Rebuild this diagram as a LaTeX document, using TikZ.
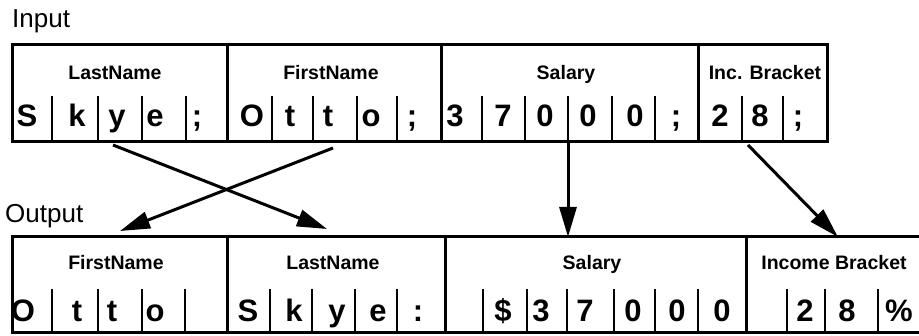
\documentclass[tikz,border=0pt]{standalone}
\usepackage{fontspec}
\setmainfont{Liberation Sans}
\usetikzlibrary{arrows.meta}
\begin{document}
\begin{tikzpicture}[x=1pt,y=-1pt,
  frame/.style={line width=3pt},
  bar/.style={line width=2.6pt},
  hdr/.style={font=\fontsize{19.5}{20}\selectfont\bfseries, anchor=base, inner sep=0pt},
  ch/.style={font=\fontsize{31}{31}\selectfont\bfseries, anchor=base, inner sep=0pt},
  lbl/.style={font=\fontsize{26}{26}\selectfont, anchor=base west, inner sep=0pt},
  arr/.style={line width=3pt, -{Triangle[length=30pt,width=17pt]}}]
\useasboundingbox (0,0) rectangle (919,336);
\clip (0,0) rectangle (919,336);

% labels
\node[lbl] (inlbl) at (12,28) {Input};
\node[lbl] (outlbl) at (5,223) {Output};

% ---------- input record ----------
\draw[frame] (12.5,45) rectangle (827,141.5);
\foreach \x in {227,441,698} \draw[frame] (\x,45) -- (\x,141.5);
\foreach \x in {52,98,142,186,272,313,357,397,482,525,568,612,655,742,783}
  \draw[bar] (\x,96) -- (\x,141);

\node[hdr] (hLastIn)  at (115,80) {LastName};
\node[hdr] (hFirstIn) at (331,80) {FirstName};
\node[hdr] (hSalIn)   at (566,80) {Salary};
\node[hdr] (hIncIn)   at (765,80) {Inc. Bracket};

\foreach \x/\c [count=\i] in {27/S,77/k,117/y,155/e,197/;,252/O,290/t,328/t,371/o,412/;,
  455/3,503/7,545/0,588/0,635/0,676/;,720/2,760/8,798/;}
  \node[ch] (in\i) at (\x,127) {\c};

% ---------- output record ----------
\draw[frame] (925,236.5) -- (12,236.5) -- (12,333) -- (925,333);
\foreach \x in {227,445,746} \draw[frame] (\x,236.5) -- (\x,333);
\foreach \x in {52,98,142,185,270,312,355,397,483,527,567,614,655,698,787,825,878}
  \draw[bar] (\x,289) -- (\x,333);

\node[hdr] (hFirstOut) at (116,270) {FirstName};
\node[hdr] (hLastOut)  at (333,270) {LastName};
\node[hdr] (hSalOut)   at (592,270) {Salary};
\node[hdr] (hIncOut)   at (834,270) {Income Bracket};

\foreach \x/\c [count=\i] in {23/O,77/t,112/t,155/o,248/S,294/k,337/y,378/e,418/:,
  503/\$,541/3,585/7,633/0,677/0,722/0,805/2,847/8,899/\%}
  \node[ch] (out\i) at (\x,322) {\c};

% ---------- connectors ----------
\coordinate (aLastS)  at (113,145);
\coordinate (aLastE)  at (327,229);
\coordinate (aFirstS) at (333,148);
\coordinate (aFirstE) at (120,231);
\coordinate (aSalS)   at (568,142);
\coordinate (aSalE)   at (568,237);
\coordinate (aIncS)   at (748,145);
\coordinate (aIncE)   at (838,237);
\draw[arr] (aLastS) -- (aLastE);
\draw[arr] (aFirstS) -- (aFirstE);
\draw[arr] (aSalS) -- (aSalE);
\draw[arr] (aIncS) -- (aIncE);
\end{tikzpicture}
\end{document}
